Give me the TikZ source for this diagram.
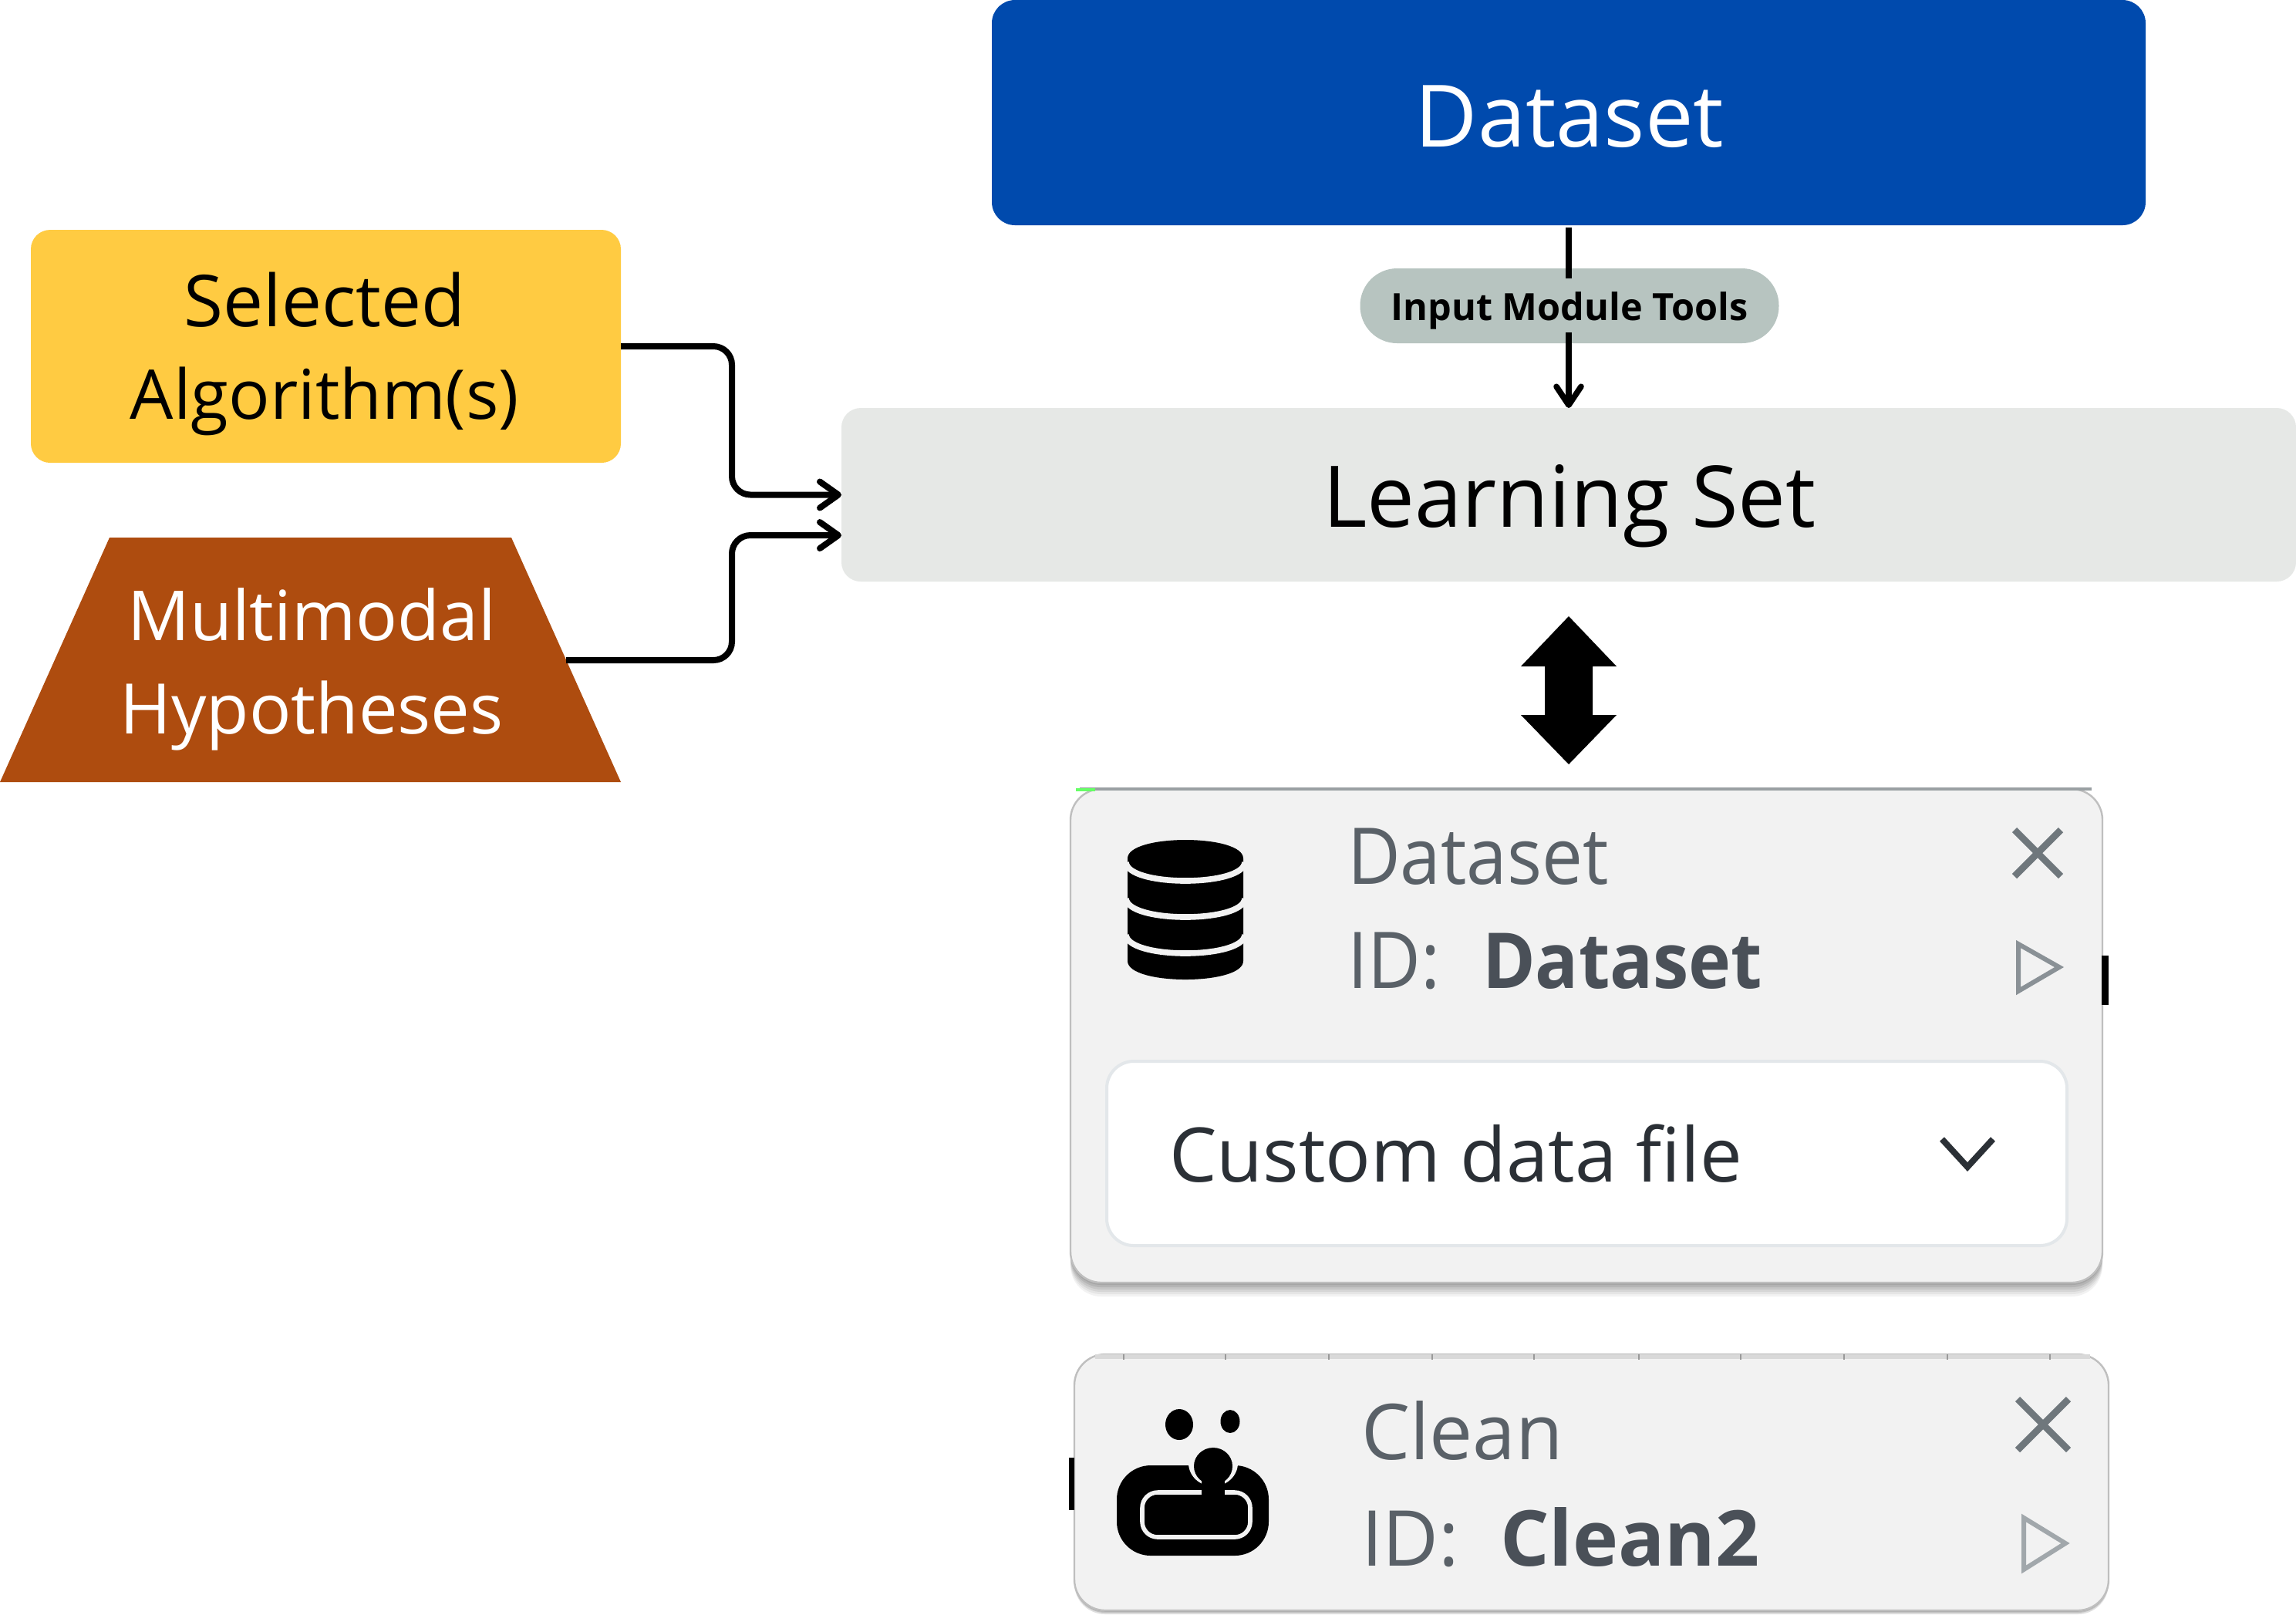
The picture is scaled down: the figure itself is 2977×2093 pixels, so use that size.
\documentclass[tikz,border=0pt]{standalone}
\usepackage{fontspec}
\setmainfont{Open Sans}
\newfontfamily\seg[FakeStretch=0.93]{Open Sans}
\usetikzlibrary{arrows.meta}
\definecolor{dsblue}{HTML}{004AAD}
\definecolor{algoyellow}{HTML}{FFCB42}
\definecolor{hyprust}{HTML}{AE4C0F}
\definecolor{learngray}{HTML}{E6E8E6}
\definecolor{pillgray}{HTML}{B7C4C0}
\definecolor{cardgray}{HTML}{F2F2F2}
\definecolor{cardtext}{HTML}{5A6168}
\definecolor{cardbold}{HTML}{4A5058}
\definecolor{darktext}{HTML}{2B3036}
\definecolor{iconx}{HTML}{6F777C}
\definecolor{icontri}{HTML}{8A9196}
\definecolor{innerline}{HTML}{E3E7EA}
\newcommand{\fs}[1]{\fontsize{#1}{#1}\selectfont}
\tikzset{
  x=0.25pt,y=-0.25pt,
  lbl/.style={anchor=base,inner sep=0pt,outer sep=0pt},
  solidbox/.style={rectangle,inner sep=0pt,outer sep=0pt},
  conn/.style={line width=2pt,rounded corners=6pt,-{Straight Barb[length=6pt,width=8.5pt,line width=2pt,round]}},
  cardbox/.style={solidbox,fill=cardgray,rounded corners=10pt,draw=gray!50,line width=.6pt},
  cardtitle/.style={anchor=base west,inner sep=0pt,outer sep=0pt,text=cardtext},
  cardid/.style={anchor=base west,inner sep=0pt,outer sep=0pt,text=cardbold},
}
\begin{document}
\begin{tikzpicture}
\useasboundingbox (0,0) rectangle (2977,2093);
\fill[white] (0,0) rectangle (2977,2093);
% top boxes
\node[solidbox,fill=dsblue,rounded corners=7.5pt,minimum width=374pt,minimum height=73pt] (dataset) at (2034,146) {};
\node[lbl,text=white] (datasetlbl) at (2035,190) {\fs{27.9}Dataset};
\node[solidbox,fill=algoyellow,rounded corners=6.25pt,minimum width=191.25pt,minimum height=75.5pt] (algo) at (422.5,449) {};
\node[lbl] (algolbl1) at (421,423) {\fs{23.2}Selected};
\node[lbl] (algolbl2) at (421,543) {\fs{22.25}Algorithm(s)};
\fill[hyprust] (142,697) -- (663,697) -- (805,1014) -- (0,1014) -- cycle;
\coordinate (hypeast) at (734,856);
\node[lbl,text=white] (hyplbl1) at (404,830) {\fs{22.4}Multimodal};
\node[lbl,text=white] (hyplbl2) at (404,951) {\fs{22.6}Hypotheses};
\node[solidbox,fill=learngray,rounded corners=6.25pt,minimum width=471.5pt,minimum height=56.25pt] (learn) at (2034,641.5) {};
\node[lbl] (learnlbl) at (2035,683) {\fs{27.6}Learning Set};
\coordinate (a1) at (learn.west);
\coordinate (a2) at (1091,694);
\coordinate (m1) at (949,545);
\coordinate (m2) at (949,775);
\draw[conn] (algo.east) -| (m1) |- (a1);
\draw[conn] (hypeast) -| (m2) |- (a2);
% input module pill and connector
\node[solidbox,fill=pillgray,rounded corners=12pt,minimum width=135.75pt,minimum height=24.25pt] (pill) at (2035,396.5) {};
\draw[line width=1.9pt,shorten <=.75pt,-{Straight Barb[length=6pt,width=8pt,line width=1.9pt,round]}] (dataset.south) -- (learn.north);
\node[lbl,fill=pillgray,inner xsep=2pt,text height=13.5pt,text depth=4pt] (pilllbl) at (2035,415) {\fs{12.15}\bfseries Input Module Tools};
% double arrow
\fill[black] (2034,799) -- (2096,864) -- (2065,864) -- (2065,927) -- (2096,927) -- (2034,991) -- (1972,927) -- (2003,927) -- (2003,864) -- (1972,864) -- cycle;
% card 1
\foreach \s/\c in {18/10,15/20,12/32,9/45,6/58,3/70}{
  \fill[gray!\c,rounded corners=10pt] (1388,1023+\s) rectangle (2726,1663+\s);
}
\node[cardbox] (card1) [minimum width=334.5pt,minimum height=160pt] at (2057,1343) {};
\draw[line width=.8pt,color=iconx!70!white] (1400,1023) -- (2712,1023);
\draw[line width=.8pt,color=green!60!white] (1395,1024) -- (1420,1024);
\fill[black] (2725,1239) rectangle (2734,1303);
\fill[black] (1462,1113) .. controls (1462,1081) and (1612,1081) .. (1612,1113) -- (1612,1246) .. controls (1612,1278) and (1462,1278) .. (1462,1246) -- cycle;
\foreach \y in {1118,1165,1212}{
  \draw[cardgray,line width=1.9pt] (1460,\y) .. controls (1462,\y+32) and (1612,\y+32) .. (1614,\y);
}
\node[cardtitle] (c1title) at (1747,1146) {\fs{25.4}\seg Dataset};
\node[cardtitle] (c1id) at (1747,1281) {\fs{25.4}\seg ID:};
\node[cardid] (c1val) at (1922,1281) {\fs{25}\seg\bfseries Dataset};
\draw[iconx,line width=2.2pt] (2612,1076) -- (2672,1136) (2672,1076) -- (2612,1136);
\draw[icontri,line width=1.5pt] (2617,1224) -- (2670,1254) -- (2617,1285) -- cycle;
\node[solidbox,fill=white,draw=innerline,line width=1pt,rounded corners=8.75pt,minimum width=311.25pt,minimum height=59.75pt] (drop) at (2057.5,1495.5) {};
\node[cardtitle,text=darktext] (droplbl) at (1516,1532) {\fs{24.4}Custom data file};
\draw[darktext,line width=2pt] (2518,1477) -- (2551,1513) -- (2584,1477);
% card 2
\foreach \s/\c in {5/25,3/50,1.5/70}{
  \fill[gray!\c,rounded corners=10pt] (1393,1756+\s) rectangle (2734,2088+\s);
}
\node[cardbox] (card2) [minimum width=335.25pt,minimum height=83pt] at (2063.5,1922) {};
\fill[gray!30] (1420,1756) rectangle (2710,1762);
\foreach \x in {1457,1589,1723,1857,1989,2125,2257,2391,2525,2658}{
  \fill[gray!80] (\x-1,1756) rectangle (\x+1,1763);
}
\fill[black] (1386,1890) rectangle (1393,1958);
\fill[black] (1529,1847) ellipse [x radius=18,y radius=20];
\fill[black] (1595,1843) ellipse [x radius=12.5,y radius=15];
\fill[black,rounded corners=11pt] (1448,1900) rectangle (1645,2017);
\draw[cardgray,line width=1.4pt,rounded corners=5pt] (1481,1935) rectangle (1621,1993);
\fill[cardgray] (1573,1897) ellipse [x radius=32,y radius=30];
\fill[black] (1573,1901) ellipse [x radius=25,y radius=24];
\fill[black] (1558,1912) rectangle (1588,1946);
\node[cardtitle] (c2title) at (1765,1892) {\fs{25}Clean};
\node[cardtitle] (c2id) at (1765,2030) {\fs{25}ID:};
\node[cardid] (c2val) at (1945,2030) {\fs{25}\bfseries Clean2};
\draw[iconx,line width=2.2pt] (2616,1814) -- (2682,1880) (2682,1814) -- (2616,1880);
\draw[icontri!80!white,line width=1.5pt] (2624,1968) -- (2678,2001) -- (2624,2035) -- cycle;
\end{tikzpicture}
\end{document}
